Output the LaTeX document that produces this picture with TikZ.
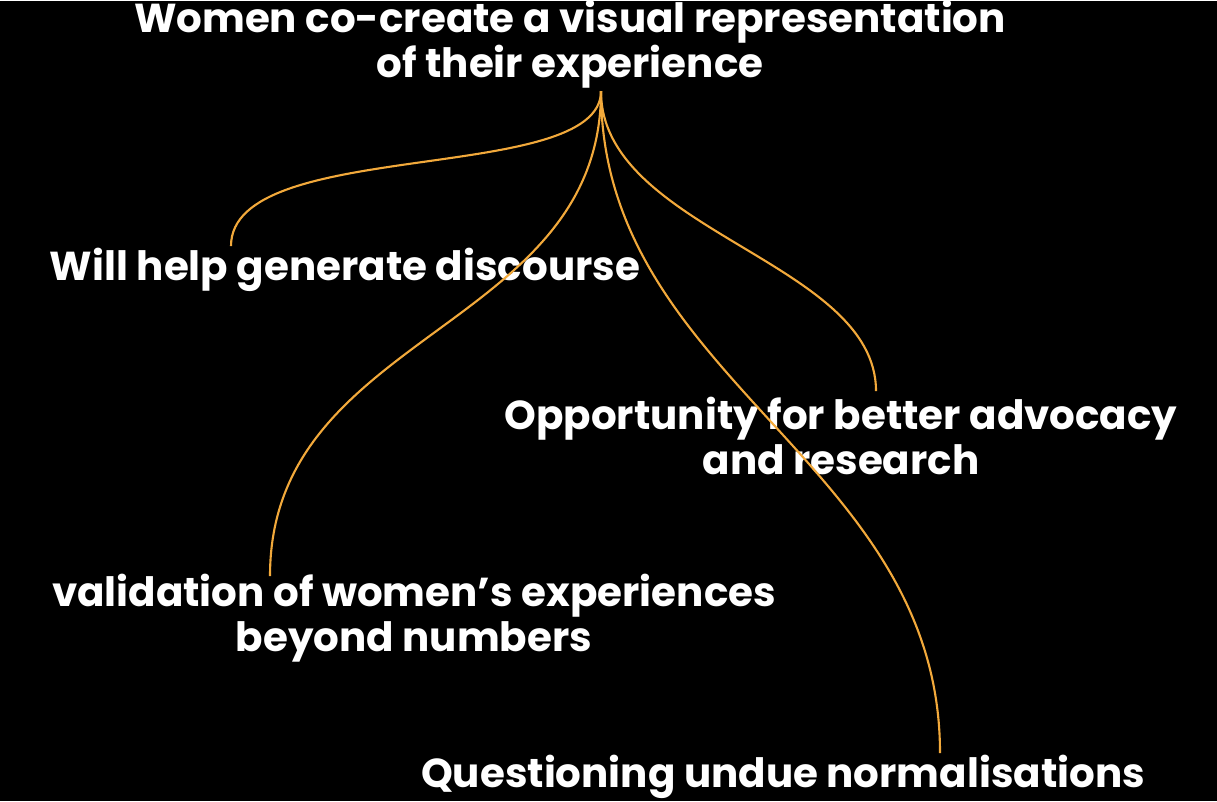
\documentclass[tikz,border=0pt]{standalone}
\usepackage{fontspec}
\setmainfont{Poppins}
\usepackage{xcolor}
\definecolor{linkorange}{HTML}{F2A93B}

\begin{document}
\begin{tikzpicture}[x=0.02cm, y=-0.02cm,
  every node/.style={text=white, align=center, inner sep=0pt, font=\fontsize{23}{25.6}\selectfont\bfseries},
  link/.style={draw=linkorange, line width=1.2pt}]

% background
\fill[black] (0,0) rectangle (1217,800);

% Titulo
\node (top) at (570,43) {Women co-create a visual representation\\of their experience};
\coordinate (hub) at (601,90);

% Ramas
\node (disc) at (345,269) {Will help generate discourse};
\node (advo) at (841,435) {Opportunity for better advocacy\\and research};
\node (valid) at (414,617) {validation of women’s experiences\\beyond numbers};
\node (quest) at (783,776) {Questioning undue normalisations};

% Puntos finales
\coordinate (discEnd) at (231,245);
\coordinate (advoEnd) at (876,390);
\coordinate (validEnd) at (270,575);
\coordinate (questEnd) at (940,752);

% Conexiones
\draw[link] (hub) .. controls (601,185) and (231,135) .. (discEnd);
\draw[link] (hub) .. controls (601,330) and (270,330) .. (validEnd);
\draw[link] (hub) .. controls (601,230) and (876,260) .. (advoEnd);
\draw[link] (hub) .. controls (601,380) and (940,460) .. (questEnd);

\end{tikzpicture}
\end{document}
